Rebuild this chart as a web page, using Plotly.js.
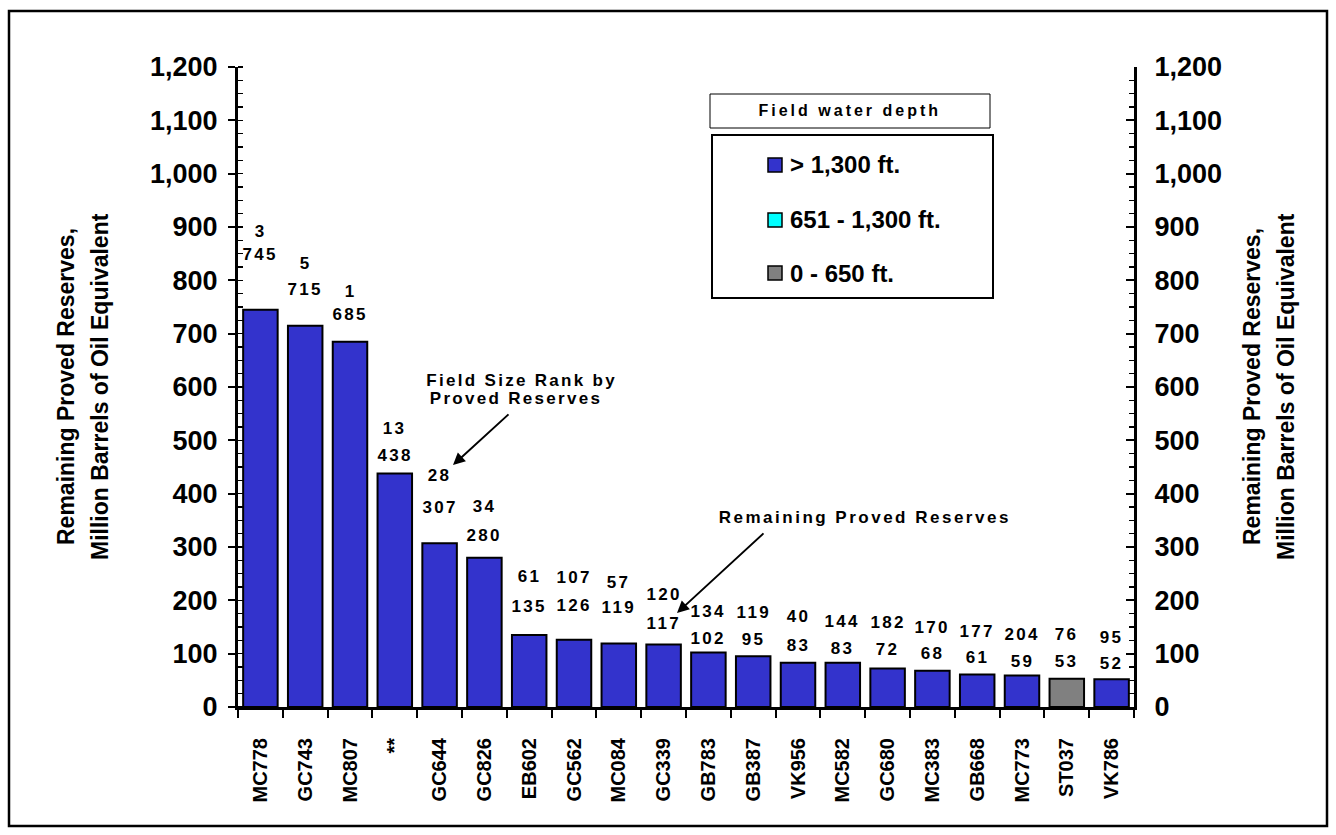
<!DOCTYPE html>
<html>
<head>
<meta charset="utf-8">
<script src="https://cdn.plot.ly/plotly-3.0.1.min.js"></script>
<style>
  html, body { margin: 0; padding: 0; background: #fff; }
  #chart { width: 1336px; height: 835px; }
</style>
</head>
<body>
<div id="chart"></div>
<script>
// ---------------- data ----------------
const categories = ["MC778","GC743","MC807","**","GC644","GC826","EB602","GC562","MC084","GC339",
                    "GB783","GB387","VK956","MC582","GC680","MC383","GB668","MC773","ST037","VK786"];
const reserves   = [745, 715, 685, 438, 307, 280, 135, 126, 119, 117,
                    102, 95, 83, 83, 72, 68, 61, 59, 53, 52];
const sizeRank   = [3, 5, 1, 13, 28, 34, 61, 107, 57, 120,
                    134, 119, 40, 144, 182, 170, 177, 204, 76, 95];
const depthClass = ["deep","deep","deep","deep","deep","deep","deep","deep","deep","deep",
                    "deep","deep","deep","deep","deep","deep","deep","deep","shallow","deep"];
const depthGroups = ["deep", "mid", "shallow"];
const depthLabels = ["> 1,300 ft.", "651 - 1,300 ft.", "0 - 650 ft."];
const legendTitle = "Field water depth";
const yTitleLines = ["Remaining Proved Reserves,", "Million Barrels of Oil Equivalent"];
const noteRank = ["Field Size Rank by", "Proved Reserves"];
const noteReserves = "Remaining Proved Reserves";

// ---------------- styling ----------------
const depthColors = { deep: "#3333CC", mid: "#00FFFF", shallow: "#808080" };
const FONT = "Liberation Sans, Arial, Helvetica, sans-serif";
// label placement offsets in pixels (above bar top / between label rows)
const valueLift = [55,36,27,18,36,22,29,34,36,21,14,17,17,14,19,17,17,14,17,16];
const rankGap   = [23,26,23,27,32,29,30,28,25,29,27,27,29,27,27,26,26,27,27,26];

const W = 1336, H = 835;
const L = 238, R = 1134, T = 67, B = 707;
const px2x = px => (px - L) / (R - L);
const px2y = py => (B - py) / (B - T);

// ---------------- traces ----------------
const traces = depthGroups.map((g, gi) => ({
  type: "bar",
  name: depthLabels[gi],
  x: categories,
  y: reserves.map((v, i) => depthClass[i] === g ? v : null),
  width: 0.77,
  marker: { color: depthColors[g], line: { color: "#000", width: 2 } },
  showlegend: false,
  hoverinfo: "x+y"
}));
// carrier for the right-hand axis
traces.push({
  type: "scatter", mode: "markers", x: categories, y: reserves, yaxis: "y2",
  marker: { opacity: 0 }, hoverinfo: "skip", showlegend: false
});

// ---------------- annotations ----------------
const annotations = [];
const spacing = [];
function addAnn(a, ls) { annotations.push(a); spacing.push(ls || 0); }

categories.forEach((c, i) => {
  addAnn({ x: c, y: reserves[i], xref: "x", yref: "y", text: String(reserves[i]),
    showarrow: false, yanchor: "middle", yshift: valueLift[i],
    font: { family: FONT, size: 17, color: "#000", weight: "bold" } }, 2.3);
  addAnn({ x: c, y: reserves[i], xref: "x", yref: "y", text: String(sizeRank[i]),
    showarrow: false, yanchor: "middle", yshift: valueLift[i] + rankGap[i],
    font: { family: FONT, size: 17, color: "#000", weight: "bold" } }, 2.3);
});

// y-axis titles (two lines each side)
[[66, 100], [1252, 1286]].forEach(xs => {
  xs.forEach((xp, k) => {
    addAnn({ x: px2x(xp), y: px2y(387), xref: "paper", yref: "paper", text: yTitleLines[k],
      showarrow: false, textangle: -90, xanchor: "center", yanchor: "middle",
      font: { family: FONT, size: 23, color: "#000", weight: "bold" } }, 0);
  });
});

// callout notes
addAnn({ x: px2x(445), y: px2y(380), xref: "paper", yref: "paper", text: noteRank[0],
  showarrow: false, xanchor: "left", yanchor: "middle",
  font: { family: FONT, size: 17, color: "#000", weight: "bold" } }, 2.3);
addAnn({ x: px2x(445), y: px2y(398), xref: "paper", yref: "paper", text: noteRank[1],
  showarrow: false, xanchor: "left", yanchor: "middle",
  font: { family: FONT, size: 17, color: "#000", weight: "bold" } }, 2.3);
addAnn({ x: px2x(453), y: px2y(465), xref: "paper", yref: "paper", text: "",
  showarrow: true, ax: 57, ay: -52, arrowhead: 2, arrowsize: 1.2, arrowwidth: 2, arrowcolor: "#000" }, 0);

addAnn({ x: px2x(865), y: px2y(517), xref: "paper", yref: "paper", text: noteReserves,
  showarrow: false, xanchor: "center", yanchor: "middle",
  font: { family: FONT, size: 17, color: "#000", weight: "bold" } }, 2.5);
addAnn({ x: px2x(677), y: px2y(613), xref: "paper", yref: "paper", text: "",
  showarrow: true, ax: 88, ay: -81, arrowhead: 2, arrowsize: 1.2, arrowwidth: 2, arrowcolor: "#000" }, 0);

// legend
addAnn({ x: px2x(850), y: px2y(111), xref: "paper", yref: "paper", text: legendTitle,
  showarrow: false, xanchor: "center", yanchor: "middle",
  font: { family: FONT, size: 16, color: "#000", weight: "bold" } }, 3);
const rowY = [165, 220, 273];
depthLabels.forEach((lab, k) => {
  addAnn({ x: px2x(788), y: px2y(rowY[k]), xref: "paper", yref: "paper", text: lab,
    showarrow: false, xanchor: "left", yanchor: "middle",
    font: { family: FONT, size: 24, color: "#000", weight: "bold" } }, 0);
});

// ---------------- shapes ----------------
const shapes = [
  { type: "rect", xref: "paper", yref: "paper", x0: px2x(9), x1: px2x(1327), y0: px2y(826), y1: px2y(11),
    line: { color: "#000", width: 2.5 } },
  { type: "rect", xref: "paper", yref: "paper", x0: px2x(710), x1: px2x(990), y0: px2y(128), y1: px2y(94),
    line: { color: "#000", width: 1 } },
  { type: "rect", xref: "paper", yref: "paper", x0: px2x(712), x1: px2x(993), y0: px2y(298), y1: px2y(135),
    line: { color: "#000", width: 2 } }
];
depthGroups.forEach((g, k) => {
  shapes.push({ type: "rect", xref: "paper", yref: "paper",
    x0: px2x(768), x1: px2x(782), y0: px2y(rowY[k] + 7), y1: px2y(rowY[k] - 7),
    fillcolor: depthColors[g], line: { color: "#000", width: 1.5 } });
});

const yCommon = {
  range: [0, 1200], dtick: 100, tick0: 0, tickformat: ",d",
  showgrid: false, zeroline: false, showline: true, linecolor: "#000", linewidth: 3,
  tickcolor: "#000", tickwidth: 2, fixedrange: true,
  tickfont: { family: FONT, size: 27, color: "#000", weight: "bold" }
};

const layout = {
  width: W, height: H,
  margin: { l: L, r: W - R, t: T, b: H - B, pad: 0 },
  paper_bgcolor: "#fff", plot_bgcolor: "#fff",
  barmode: "overlay",
  showlegend: false,
  xaxis: {
    type: "category", categoryorder: "array", categoryarray: categories,
    range: [-0.5, categories.length - 0.5], autorange: false,
    tickson: "boundaries", ticks: "outside", ticklen: 8, tickwidth: 2, tickcolor: "#000",
    tickangle: -90, ticklabelstandoff: 20,
    tickfont: { family: FONT, size: 20, color: "#000", weight: "bold" },
    showline: true, linecolor: "#000", linewidth: 3, showgrid: false, zeroline: false,
    fixedrange: true
  },
  yaxis: Object.assign({}, yCommon, {
    side: "left", ticks: "outside", ticklen: 7, ticklabelstandoff: 5,
    minor: { dtick: 25, ticks: "inside", ticklen: 5, tickwidth: 1.5, tickcolor: "#000" }
  }),
  yaxis2: Object.assign({}, yCommon, {
    side: "right", overlaying: "y", anchor: "x", ticks: "inside", ticklen: 8, ticklabelstandoff: 12,
    minor: { dtick: 25, ticks: "inside", ticklen: 5, tickwidth: 1.5, tickcolor: "#000" }
  }),
  annotations: annotations,
  shapes: shapes
};

Plotly.newPlot("chart", traces, layout, { displayModeBar: false, staticPlot: true }).then(() => {
  document.querySelectorAll("g.annotation").forEach(g => {
    const i = +g.getAttribute("data-index");
    const t = g.querySelector("text.annotation-text") || g.querySelector("text");
    if (t && spacing[i]) t.style.letterSpacing = spacing[i] + "px";
  });
});
</script>
</body>
</html>
